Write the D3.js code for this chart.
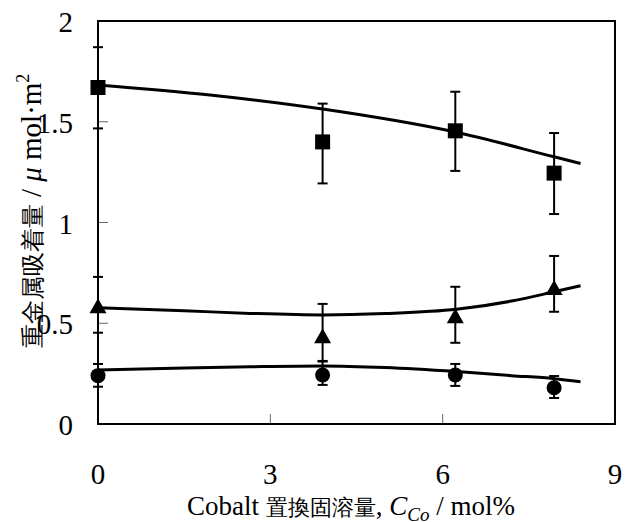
<!DOCTYPE html>
<html>
<head>
<meta charset="utf-8">
<script src="https://cdn.jsdelivr.net/npm/d3@7"></script>
<style>
  body { margin: 0; background: #fff; }
</style>
</head>
<body>
<div id="chart"></div>
<script>
// measured points (x = Co content, mol%)
var xCo = [0, 3.91, 6.22, 7.94];

var squareY = [1.67, 1.40, 1.455, 1.245];
var squareLo = [1.467, 1.194, 1.256, 1.042];
var squareHi = [1.87, 1.59, 1.649, 1.444];

var triY = [0.58, 0.43, 0.53, 0.67];
var triLo = [0.453, 0.31, 0.403, 0.557];
var triHi = [0.73, 0.596, 0.681, 0.834];

var circY = [0.24, 0.243, 0.243, 0.18];
var circLo = [0.185, 0.194, 0.189, 0.129];
var circHi = [0.298, 0.313, 0.298, 0.238];

// fitted curves
var fitSquareX = [0, 1.95, 3.91, 6.2, 7.94, 8.4];
var fitSquareY = [1.683, 1.633, 1.563, 1.45, 1.326, 1.293];
var fitTriX = [0, 1.5, 2.65, 3.91, 5, 6.24, 7.2, 7.94, 8.4];
var fitTriY = [0.577, 0.562, 0.549, 0.541, 0.548, 0.569, 0.61, 0.656, 0.686];
var fitCircX = [0, 1.5, 2.65, 3.91, 5, 6.24, 7.2, 7.94, 8.4];
var fitCircY = [0.268, 0.278, 0.284, 0.288, 0.28, 0.26, 0.24, 0.225, 0.21];

var xTicks = [0, 3, 6, 9];
var yTicks = [0, 0.5, 1, 1.5, 2];

var serif = "'Liberation Serif', 'Times New Roman', Times, serif";

var W = 629, H = 522;
var margin = {top: 21, right: 14, bottom: 98, left: 98};
var width = W - margin.left - margin.right,
    height = H - margin.top - margin.bottom;

var svg = d3.select("#chart").append("svg")
    .attr("width", W)
    .attr("height", H)
    .attr("font-family", serif);

var g = svg.append("g")
    .attr("transform", "translate(" + margin.left + "," + margin.top + ")");

var x = d3.scaleLinear().domain([0, 9]).range([0, width]);
var y = d3.scaleLinear().domain([0, 2]).range([height, 0]);

// inner ticks
g.selectAll(".ytick").data(yTicks.slice(1, -1)).enter().append("line")
    .attr("x1", 0).attr("x2", 10)
    .attr("y1", function (d) { return y(d); })
    .attr("y2", function (d) { return y(d); })
    .attr("stroke", "#666").attr("stroke-width", 1);
g.selectAll(".xtick").data(xTicks.slice(1, -1)).enter().append("line")
    .attr("y1", height).attr("y2", height - 10)
    .attr("x1", function (d) { return x(d); })
    .attr("x2", function (d) { return x(d); })
    .attr("stroke", "#666").attr("stroke-width", 1);

// tick labels
g.selectAll(".ylab").data(yTicks).enter().append("text")
    .attr("x", -25)
    .attr("y", function (d) { return y(d) + 11; })
    .attr("text-anchor", "end")
    .attr("font-size", 29)
    .text(function (d) { return d; });
g.selectAll(".xlab").data(xTicks).enter().append("text")
    .attr("x", function (d) { return x(d); })
    .attr("y", height + 60)
    .attr("text-anchor", "middle")
    .attr("font-size", 29)
    .text(function (d) { return d; });

// fitted lines
var line = d3.line()
    .x(function (d) { return x(d[0]); })
    .y(function (d) { return y(d[1]); })
    .curve(d3.curveMonotoneX);

[[fitSquareX, fitSquareY], [fitTriX, fitTriY], [fitCircX, fitCircY]].forEach(function (f) {
    g.append("path")
        .datum(d3.zip(f[0], f[1]))
        .attr("fill", "none")
        .attr("stroke", "#000")
        .attr("stroke-width", 3)
        .attr("d", line);
});

// error bars
function errorBars(lo, hi) {
    var eb = g.append("g").attr("stroke", "#000").attr("stroke-width", 2);
    xCo.forEach(function (xv, i) {
        var px = x(xv);
        eb.append("line").attr("x1", px).attr("x2", px)
            .attr("y1", y(lo[i])).attr("y2", y(hi[i]));
        [lo[i], hi[i]].forEach(function (v) {
            eb.append("line").attr("x1", px - 5).attr("x2", px + 5)
                .attr("y1", y(v)).attr("y2", y(v));
        });
    });
}
errorBars(squareLo, squareHi);
errorBars(triLo, triHi);
errorBars(circLo, circHi);

// markers
g.selectAll(".sq").data(squareY).enter().append("rect")
    .attr("x", function (d, i) { return x(xCo[i]) - 7.5; })
    .attr("y", function (d) { return y(d) - 7.5; })
    .attr("width", 15).attr("height", 15)
    .attr("fill", "#000");

g.selectAll(".tri").data(triY).enter().append("path")
    .attr("d", function (d, i) {
        var px = x(xCo[i]), py = y(d);
        return "M" + px + "," + (py - 9) + "L" + (px + 8.5) + "," + (py + 6) +
            "L" + (px - 8.5) + "," + (py + 6) + "Z";
    })
    .attr("fill", "#000");

g.selectAll(".circ").data(circY).enter().append("circle")
    .attr("cx", function (d, i) { return x(xCo[i]); })
    .attr("cy", function (d) { return y(d); })
    .attr("r", 7.5)
    .attr("fill", "#000");

// frame
g.append("rect")
    .attr("width", width).attr("height", height)
    .attr("fill", "none").attr("stroke", "#000").attr("stroke-width", 2);

// x title
var xt = svg.append("text")
    .attr("x", 351)
    .attr("y", 515)
    .attr("text-anchor", "middle")
    .attr("font-size", 27);
xt.append("tspan").text("Cobalt ");
xt.append("tspan").attr("font-size", 22).text("置換固溶量");
xt.append("tspan").text(", ");
xt.append("tspan").attr("font-style", "italic").text("C");
xt.append("tspan").attr("font-style", "italic").attr("font-size", 19)
    .attr("dy", 6).text("Co");
xt.append("tspan").attr("dy", -6).text(" / mol%");

// y title
var yt = svg.append("text")
    .attr("transform", "translate(41,211) rotate(-90)")
    .attr("text-anchor", "middle")
    .attr("font-size", 29);
yt.append("tspan").attr("font-size", 24).text("重金属吸着量");
yt.append("tspan").text(" / ");
yt.append("tspan").attr("font-style", "italic").text("μ");
yt.append("tspan").text(" mol·m");
yt.append("tspan").attr("font-size", 18).attr("dy", -12).text("2");
</script>
</body>
</html>
